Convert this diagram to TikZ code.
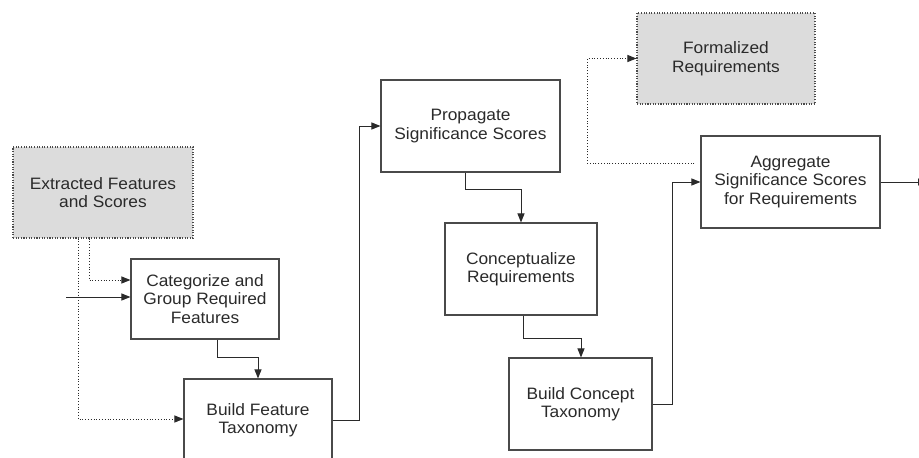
\documentclass[tikz,border=0pt]{standalone}
\usepackage{fontspec}
\setmainfont{Liberation Sans}[FakeStretch=1.05]
\usetikzlibrary{arrows.meta,calc}
\definecolor{edge}{HTML}{4A4A4A}
\definecolor{shade}{HTML}{DCDCDC}
\definecolor{ink}{HTML}{2A2A2A}
\tikzset{
  proc/.style={draw=edge, line width=1.1pt, fill=white, align=center,
    font=\fontsize{16.5}{18.5}\selectfont, text=ink, inner sep=0pt},
  datastore/.style={proc, fill=shade, dash pattern=on 1.1pt off 1.5pt},
  flow/.style={draw=ink, line width=1pt, -{Triangle[length=9pt,width=7pt]}},
  dataflow/.style={flow, dash pattern=on 1.1pt off 1.7pt}
}
\begin{document}
\begin{tikzpicture}[x=1pt,y=-1pt]
\useasboundingbox (0,0) rectangle (919,458);

% inputs and outputs (data)
\node[datastore, minimum width=180, minimum height=91] (ext) at (103,192.5)
  {Extracted Features\\and Scores};
\node[datastore, minimum width=178, minimum height=91] (form) at (726,58.5)
  {Formalized\\Requirements};

% processing steps
\node[proc, minimum width=148, minimum height=80] (cat) at (205,299)
  {Categorize and\\Group Required\\Features};
\node[proc, minimum width=148, minimum height=82] (bft) at (258,420)
  {Build Feature\\Taxonomy};
\node[proc, minimum width=179, minimum height=92] (prop) at (470.5,126)
  {Propagate\\Significance Scores};
\node[proc, minimum width=152, minimum height=92] (conc) at (521,269)
  {Conceptualize\\Requirements};
\node[proc, minimum width=143, minimum height=92] (bct) at (580.5,404)
  {Build Concept\\Taxonomy};
\node[proc, minimum width=179, minimum height=92] (agg) at (790.5,182)
  {Aggregate\\Significance Scores\\for Requirements};

\coordinate (in) at (66,297);
\coordinate (out) at (927,182);

% control flow
\draw[flow] (in) -- (cat.west |- in);
\draw[flow] ([xshift=12pt]cat.south) -- ++(0,18) -| (bft.north);
\draw[flow] (bft.east) -- ++(27,0) |- (prop.west);
\draw[flow] ([xshift=-5.5pt]prop.south) -- ++(0,17) -| (conc.north);
\draw[flow] ([xshift=2pt]conc.south) -- ++(0,23) -| ([xshift=0.5pt]bct.north);
\draw[flow] (bct.east) -- ++(20,0) |- (agg.west);
\draw[flow] (agg.east) -- (out);

% data flow
\draw[dataflow] ([xshift=-14pt]ext.south) |- ([yshift=19pt]cat.west);
\draw[dataflow] ([xshift=-25pt]ext.south) |- ([yshift=1pt]bft.west);
\draw[dataflow] ([yshift=19pt,xshift=-6pt]agg.west) -- ++(-107,0) |- (form.west);
\end{tikzpicture}
\end{document}
